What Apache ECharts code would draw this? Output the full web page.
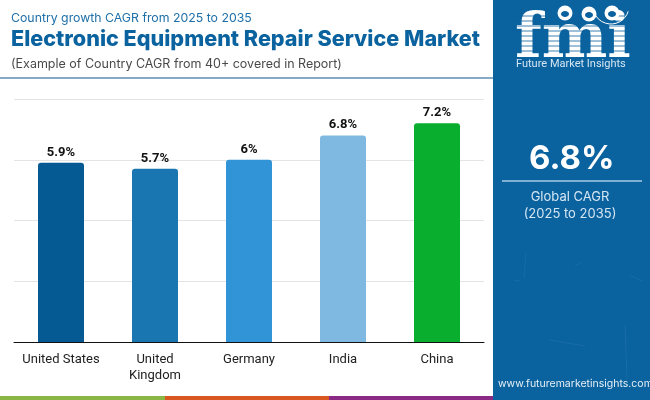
<!DOCTYPE html>
<html>
<head>
<meta charset="utf-8">
<title>Electronic Equipment Repair Service Market</title>
<style>
  html, body { margin: 0; padding: 0; background: #fff; }
  #chart { width: 650px; height: 400px; }
</style>
<script src="https://cdn.jsdelivr.net/npm/echarts@6/dist/echarts.min.js"></script>
</head>
<body>
<div id="chart"></div>
<script>
const countries = ['United States', 'United\nKingdom', 'Germany', 'India', 'China'];
const cagrValues = [5.9, 5.7, 6, 6.8, 7.2];
const barColors = ['#055a94', '#1a76b0', '#3194d6', '#7fb9e2', '#0aae2e'];
const yTicks = [0, 2, 4, 6, 8];

const PANEL = '#0a629f';
const HEAD_FONT = 'Inter, "Open Sans", sans-serif';

// thin stripes laid over the logo letters
function logoStripes () {
  const out = [];
  for (let y = 16; y < 56; y += 5) {
    out.push({
      type: 'line', z: 12,
      shape: { x1: 512, y1: y, x2: 632, y2: y },
      style: { stroke: PANEL, lineWidth: 0.8 }
    });
  }
  return out;
}

// three small globes above the logo
function logoGlobes () {
  const out = [];
  [[565, 13], [589, 14], [612, 13]].forEach((c) => {
    out.push({ type: 'circle', z: 13, shape: { cx: c[0], cy: c[1], r: 7.5 }, style: { fill: '#fff' } });
    out.push({ type: 'ellipse', z: 14, shape: { cx: c[0], cy: c[1] + 1, rx: 4, ry: 3 }, style: { fill: PANEL } });
  });
  return out;
}

const panelScratches = [
  [526, 253, 524, 278], [582, 262, 575, 266], [629, 275, 642, 281],
  [549, 340, 585, 346], [625, 325, 627, 380], [514, 280, 520, 281]
];

const chart = echarts.init(document.getElementById('chart'), null, { renderer: 'canvas' });

chart.setOption({
  animation: false,
  backgroundColor: '#fff',
  grid: { left: 14, right: 166, top: 99, bottom: 58, containLabel: false },
  xAxis: {
    type: 'category',
    data: countries,
    axisTick: { show: false },
    axisLine: { lineStyle: { color: '#111', width: 1 } },
    axisLabel: { color: '#222', fontFamily: 'Roboto', fontSize: 13, lineHeight: 16, margin: 10, interval: 0 }
  },
  yAxis: {
    type: 'value',
    min: yTicks[0],
    max: yTicks[yTicks.length - 1],
    interval: 2,
    axisLine: { show: false },
    axisTick: { show: false },
    axisLabel: { show: false },
    splitLine: { lineStyle: { color: '#e4e4e4', width: 1 } }
  },
  series: [{
    type: 'bar',
    barWidth: 46,
    data: cagrValues.map((v, i) => ({
      value: v,
      itemStyle: { color: barColors[i], borderRadius: [3, 3, 0, 0] }
    })),
    label: {
      show: true,
      position: 'top',
      distance: 4,
      color: '#111',
      fontFamily: 'Roboto',
      fontWeight: 'bold',
      fontSize: 13,
      formatter: (p) => p.value + '%'
    }
  }],
  graphic: [
    // header
    { type: 'text', left: 11, top: 12, style: { text: 'Country growth CAGR from 2025 to 2035', fill: '#1f6fa8', font: '400 12.3px ' + HEAD_FONT } },
    { type: 'text', left: 11, top: 28, style: { text: 'Electronic Equipment Repair Service Market', fill: '#0a629f', font: '800 21.6px ' + HEAD_FONT } },
    { type: 'text', left: 11, top: 58, style: { text: '(Example of Country CAGR from 40+ covered in Report)', fill: '#4a4a4a', font: '400 12.5px ' + HEAD_FONT } },
    { type: 'rect', shape: { x: 0, y: 77, width: 493, height: 2 }, style: { fill: '#85aac8' } },

    // right panel
    { type: 'rect', z: 5, shape: { x: 493, y: 0, width: 157, height: 400 }, style: { fill: PANEL } },
    ...panelScratches.map(s => ({
      type: 'line', z: 6,
      shape: { x1: s[0], y1: s[1], x2: s[2], y2: s[3] },
      style: { stroke: '#3a80b2', lineWidth: 1, opacity: 0.3 }
    })),

    // logo
    { type: 'text', z: 11, left: 515, top: 10, style: { text: 'fmi', fill: '#fff', font: '700 62px "DejaVu Serif"' } },
    ...logoStripes(),
    ...logoGlobes(),
    { type: 'arc', z: 13, shape: { cx: 611, cy: 6, r: 18, startAngle: 0.3, endAngle: 2.8 }, style: { stroke: '#fff', fill: null, lineWidth: 1 } },
    { type: 'text', z: 13, left: 516, top: 59, style: { text: 'Future Market Insights', fill: '#d5e6f3', font: '400 11px Roboto' } },

    // global figure
    { type: 'text', z: 11, left: 529, top: 143, style: { text: '6.8%', fill: '#fff', font: '700 33px ' + HEAD_FONT } },
    { type: 'rect', z: 11, shape: { x: 502, y: 180, width: 140, height: 2 }, style: { fill: '#7fb0d4' } },
    { type: 'text', z: 11, style: { x: 570, y: 197, text: 'Global CAGR', fill: '#d5e6f3', align: 'center', verticalAlign: 'middle', font: '400 13px ' + HEAD_FONT } },
    { type: 'text', z: 11, style: { x: 570, y: 214, text: '(2025 to 2035)', fill: '#d5e6f3', align: 'center', verticalAlign: 'middle', font: '400 13px ' + HEAD_FONT } },
    { type: 'text', z: 11, left: 498, top: 378, style: { text: 'www.futuremarketinsights.com', fill: '#e6f0f7', font: '400 10.5px ' + HEAD_FONT } },

    // bottom colour bands
    { type: 'rect', shape: { x: 0, y: 396, width: 165, height: 4 }, style: { fill: '#8ab645' } },
    { type: 'rect', shape: { x: 165, y: 396, width: 164, height: 4 }, style: { fill: '#d9581f' } },
    { type: 'rect', shape: { x: 329, y: 396, width: 164, height: 4 }, style: { fill: '#8a2a85' } }
  ]
});
</script>
</body>
</html>
